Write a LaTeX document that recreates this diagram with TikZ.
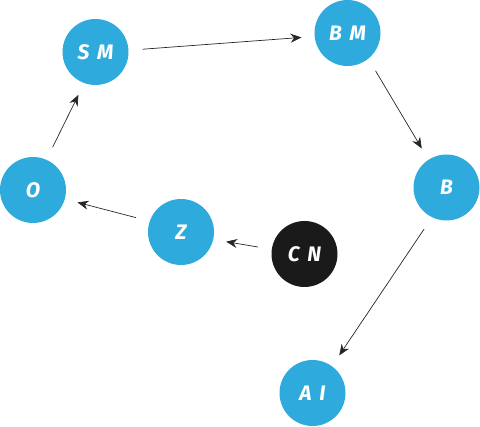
\documentclass[tikz,border=0pt]{standalone}
\usepackage{fontspec}
\setsansfont{Fira Sans}
\usetikzlibrary{arrows.meta,positioning}
\definecolor{nodeblue}{HTML}{2EAADC}
\definecolor{nodeblack}{HTML}{1A1A1A}
\tikzset{
	state/.style={circle, fill=nodeblue, minimum size=66pt, inner sep=0pt,
		text=white, font=\sffamily\bfseries\itshape\fontsize{21}{24}\selectfont},
	darkstate/.style={state, fill=nodeblack},
	arrow/.style={-{Stealth[length=11pt,width=9pt]}, line width=0.7pt, black!85,
		shorten <=14pt, shorten >=13pt}
}

\begin{document}
\begin{tikzpicture}[x=1pt,y=1pt]
	\useasboundingbox (0,0) rectangle (480,427);
	
	%% -- States
	\node[state] (sm) at (95.5,375) {S\hspace{3pt} M};
	\node[state] (bm) at (347.5,394) {B\hspace{3pt} M};
	\node[state] (b) at (446.5,239.5) {B};
	\node[state] (o) at (33,237) {O};
	\node[state] (z) at (181,195) {Z};
	\node[darkstate] (cn) at (304.5,173) {C\hspace{3pt} N};
	\node[state] (ai) at (312.5,34) {A\hspace{3pt} I};
	
	%% -- Transitions
	\draw[arrow] (sm.3) -- (bm.186);
	\draw[arrow] (bm.-51) -- (b.123);
	\draw[arrow] (b.244) -- (ai.54);
	\draw[arrow] (cn.172) -- (z.-13);
	\draw[arrow] (z.161) -- (o.-16);
	\draw[arrow] (o.66) -- (sm.250);
	
\end{tikzpicture}
\end{document}
